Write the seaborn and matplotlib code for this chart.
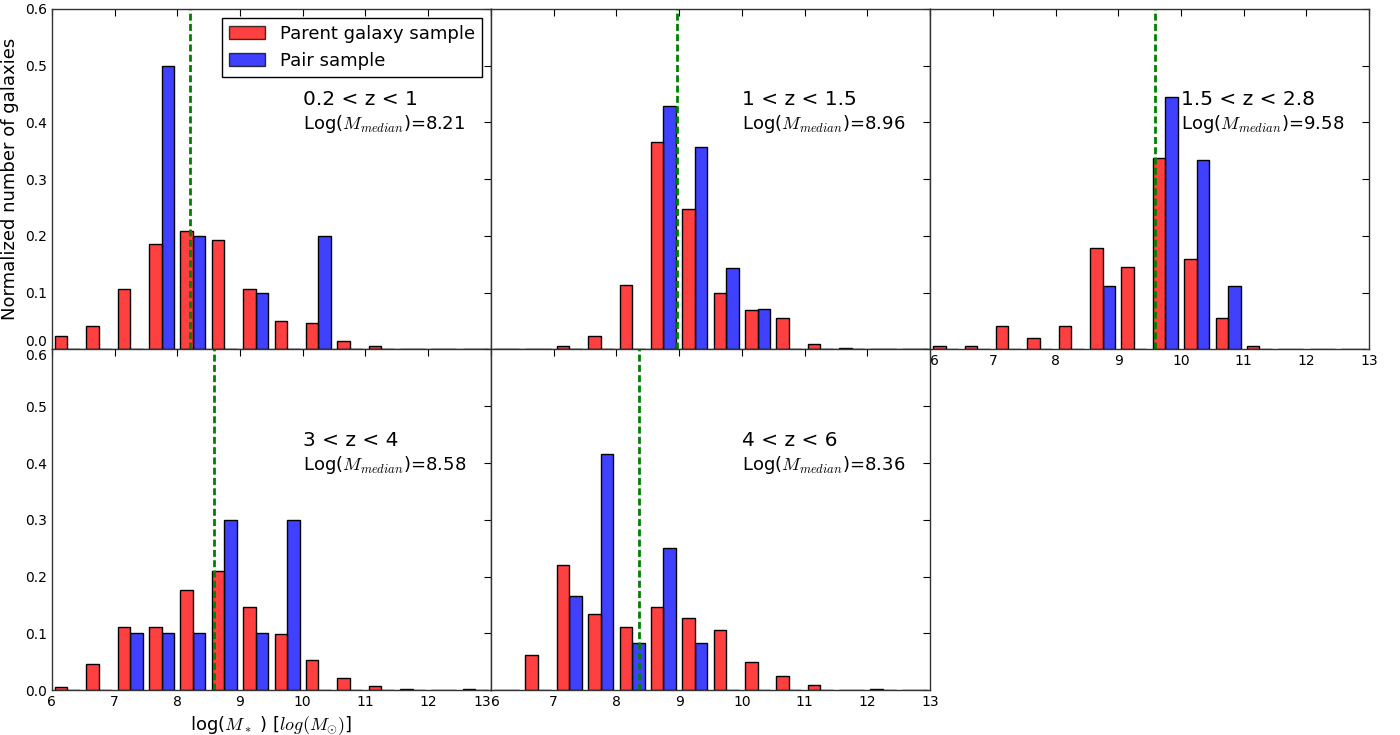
import numpy as np
import matplotlib
matplotlib.use("Agg")
import matplotlib.pyplot as plt
from matplotlib.patches import Patch
import pandas as pd
import seaborn as sns

# mass bins (left edges, log M*)
mass_bins = [6.0, 6.5, 7.0, 7.5, 8.0, 8.5, 9.0, 9.5, 10.0, 10.5, 11.0, 11.5, 12.0, 12.5]
bin_width = 0.5

# redshift ranges and medians
z_labels = ["0.2 < z < 1", "1 < z < 1.5", "1.5 < z < 2.8", "3 < z < 4", "4 < z < 6"]
medians = [8.21, 8.96, 9.58, 8.58, 8.36]

# normalized counts
parent_1 = [0.0235, 0.041, 0.106, 0.186, 0.208, 0.1935, 0.106, 0.0506, 0.046, 0.0147, 0.007, 0, 0, 0]
pair_1 = [0, 0, 0, 0.5, 0.2, 0, 0.1, 0, 0.2, 0, 0, 0, 0, 0]

parent_2 = [0, 0, 0.007, 0.0235, 0.1135, 0.366, 0.248, 0.1, 0.069, 0.0547, 0.010, 0.0035, 0, 0]
pair_2 = [0, 0, 0, 0, 0, 0.4286, 0.3571, 0.1429, 0.0714, 0, 0, 0, 0, 0]

parent_3 = [0.0065, 0.0065, 0.0406, 0.0206, 0.0406, 0.178, 0.1447, 0.337, 0.159, 0.0547, 0.0065, 0, 0, 0]
pair_3 = [0, 0, 0, 0, 0, 0.1111, 0, 0.4444, 0.3333, 0.1111, 0, 0, 0, 0]

parent_4 = [0.0047, 0.0453, 0.111, 0.111, 0.176, 0.209, 0.146, 0.099, 0.053, 0.0206, 0.0065, 0.0018, 0, 0.0018]
pair_4 = [0, 0, 0.1, 0.1, 0.1, 0.3, 0.1, 0.3, 0, 0, 0, 0, 0, 0]

parent_5 = [0, 0.0618, 0.221, 0.134, 0.111, 0.146, 0.1265, 0.1065, 0.0488, 0.0241, 0.0088, 0, 0.0018, 0]
pair_5 = [0, 0, 0.1667, 0.4167, 0.0833, 0.25, 0.0833, 0, 0, 0, 0, 0, 0, 0]

parents = [parent_1, parent_2, parent_3, parent_4, parent_5]
pairs = [pair_1, pair_2, pair_3, pair_4, pair_5]

labels = ["Parent galaxy sample", "Pair sample"]
colors = {"Parent galaxy sample": "red", "Pair sample": "blue"}

sns.set_style("white")
plt.rcParams["font.family"] = ["DejaVu Sans"]
plt.rcParams["mathtext.fontset"] = "cm"
plt.rcParams["text.color"] = "black"
plt.rcParams["axes.labelcolor"] = "black"
plt.rcParams["xtick.color"] = "black"
plt.rcParams["ytick.color"] = "black"
plt.rcParams["xtick.direction"] = "in"
plt.rcParams["ytick.direction"] = "in"
plt.rcParams["xtick.top"] = True
plt.rcParams["ytick.right"] = True

edges = mass_bins + [mass_bins[-1] + bin_width]

fig, axes = plt.subplots(2, 3, figsize=(14, 7.35), dpi=100, sharex=True, sharey=True)
fig.subplots_adjust(left=0.037, right=0.978, top=0.988, bottom=0.061, wspace=0, hspace=0)
panel_axes = [axes[0, 0], axes[0, 1], axes[0, 2], axes[1, 0], axes[1, 1]]

for i, ax in enumerate(panel_axes):
    centres = [b + bin_width / 2 for b in mass_bins]
    df = pd.DataFrame({
        "mass": centres + centres,
        "frac": parents[i] + pairs[i],
        "sample": [labels[0]] * len(centres) + [labels[1]] * len(centres),
    })
    sns.histplot(data=df, x="mass", weights="frac", hue="sample", hue_order=labels,
                 palette=colors, bins=edges, multiple="dodge", shrink=0.8,
                 alpha=0.75, edgecolor="black", linewidth=1, legend=False, ax=ax)
    ax.axvline(medians[i], color="green", linestyle=(0, (2.5, 1.2)), linewidth=2)
    ax.text(0.571, 0.733, z_labels[i], transform=ax.transAxes, fontsize=14.5, va="center")
    ax.text(0.571, 0.662, r"Log($M_{median}$)=%.2f" % medians[i], transform=ax.transAxes,
            fontsize=13, va="center")
    ax.set_xlim(6, 13)
    ax.set_ylim(0, 0.6)
    ax.set_xticks([6, 7, 8, 9, 10, 11, 12, 13])
    ax.set_yticks([0.0, 0.1, 0.2, 0.3, 0.4, 0.5, 0.6])
    ax.set_yticklabels(["0.0", "0.1", "0.2", "0.3", "0.4", "0.5", "0.6"])
    ax.tick_params(labelsize=10, length=5, width=0.8)
    ax.set_xlabel("")
    ax.set_ylabel("")
    for s in ax.spines.values():
        s.set_color("#333333")
        s.set_linewidth(1)

axes[0, 2].tick_params(labelbottom=True)
axes[1, 2].remove()

fig.canvas.draw()
# nudge the labels that meet at shared panel corners
axes[0, 0].get_yticklabels()[0].set_va("bottom")
axes[1, 0].get_yticklabels()[-1].set_va("top")
axes[1, 0].get_xticklabels()[-1].set_ha("right")
axes[1, 1].get_xticklabels()[0].set_ha("left")
axes[0, 2].get_xticklabels()[0].set_ha("left")

axes[0, 0].set_ylabel("Normalized number of galaxies", fontsize=13)
axes[1, 0].set_xlabel(r"log($M_*$ ) [$log(M_{\odot})$]", fontsize=13)

handles = [Patch(facecolor=colors[l], edgecolor="black", alpha=0.75) for l in labels]
leg = axes[0, 0].legend(handles, labels, loc="upper right", fontsize=13, frameon=True,
                        fancybox=False, framealpha=1, borderaxespad=0.5, handlelength=2)
leg.get_frame().set_edgecolor("black")

fig.savefig("out.png", dpi=100)
